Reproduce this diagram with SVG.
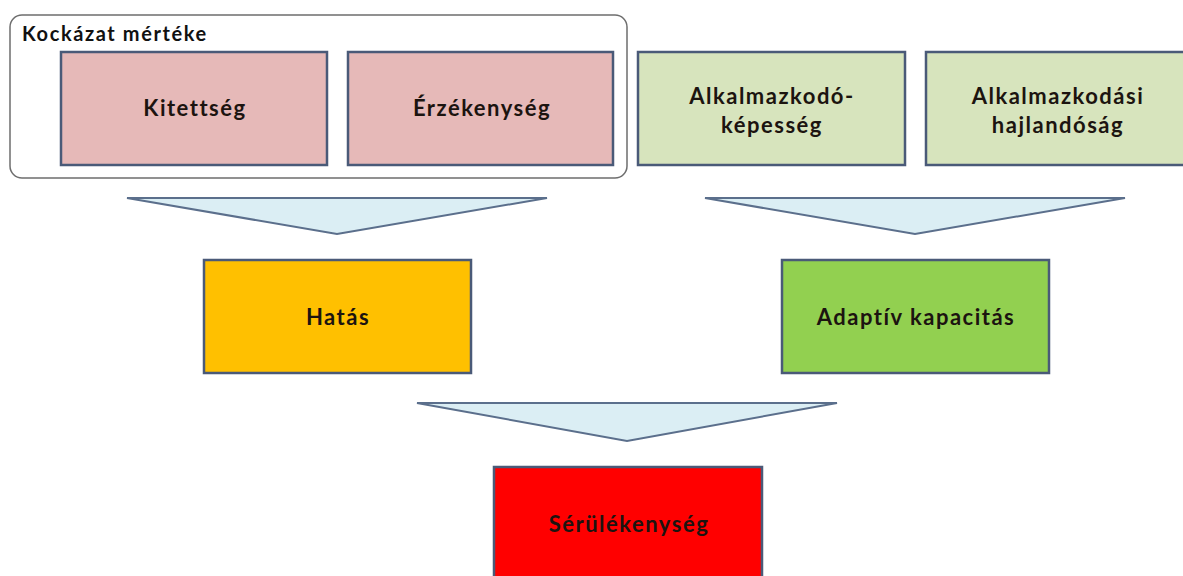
<svg xmlns="http://www.w3.org/2000/svg" width="1183" height="576" viewBox="0 0 1183 576">
<style>
.box{stroke:#4a5a78;stroke-width:2.5}
.tri{fill:#dbeef4;stroke:#5b6f8c;stroke-width:2}
.t{font-family:Lato,"Open Sans","Liberation Sans",sans-serif;font-weight:bold;font-size:22px;letter-spacing:1.5px;fill:#1c1410;text-anchor:middle}
.lbl{font-family:Lato,"Open Sans","Liberation Sans",sans-serif;font-weight:bold;font-size:20px;letter-spacing:1.6px;fill:#111}
</style>
<rect width="1183" height="576" fill="#ffffff"/>
<g id="kockazat">
<rect x="10" y="15" width="617" height="163" rx="12" fill="#ffffff" stroke="#6e6e6e" stroke-width="1.5"/>
<text class="lbl" x="22" y="41">Kockázat mértéke</text>
</g>
<g id="connectors">
<polygon class="tri" points="127,198 547,198 337,234"/>
<polygon class="tri" points="705,198 1125,198 915,234"/>
<polygon class="tri" points="417,403 837,403 627,441"/>
</g>
<g id="kitettseg">
<rect class="box" x="61" y="52" width="266" height="113" fill="#e6b9b8"/>
<text class="t" x="195" y="116">Kitettség</text>
</g>
<g id="erzekenyseg">
<rect class="box" x="348" y="52" width="265" height="113" fill="#e6b9b8"/>
<text class="t" x="482" y="116">Érzékenység</text>
</g>
<g id="alkalmazkodokepesseg">
<rect class="box" x="638" y="52" width="267" height="113" fill="#d7e4bd"/>
<text class="t" x="772" y="104">Alkalmazkodó-</text>
<text class="t" x="772" y="133">képesség</text>
</g>
<g id="alkalmazkodasi">
<rect class="box" x="926" y="52" width="270" height="113" fill="#d7e4bd"/>
<text class="t" x="1058" y="104">Alkalmazkodási</text>
<text class="t" x="1058" y="133">hajlandóság</text>
</g>
<g id="hatas">
<rect class="box" x="204" y="260" width="267" height="113" fill="#ffc000"/>
<text class="t" x="338" y="325">Hatás</text>
</g>
<g id="adaptiv">
<rect class="box" x="782" y="260" width="267" height="113" fill="#92d050"/>
<text class="t" x="916" y="325">Adaptív kapacitás</text>
</g>
<g id="serulekenyseg">
<rect class="box" x="494" y="467" width="268" height="120" fill="#ff0000"/>
<text class="t" x="629" y="532">Sérülékenység</text>
</g>
</svg>
